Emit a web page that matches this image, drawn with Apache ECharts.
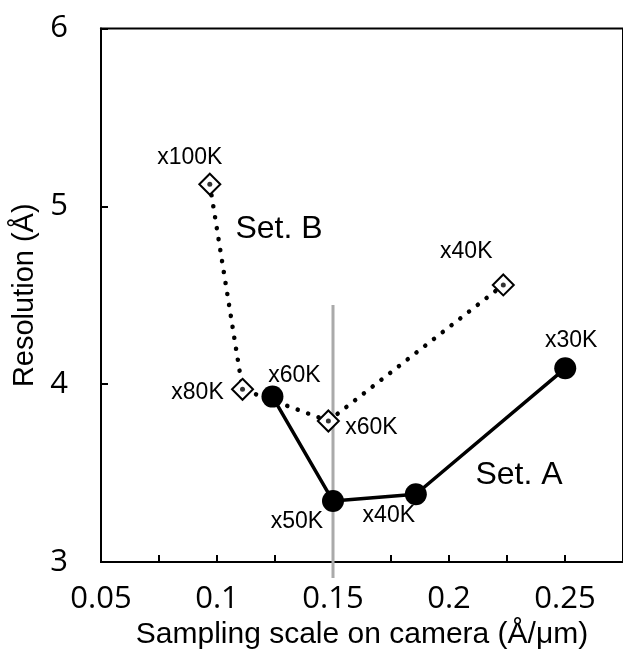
<!DOCTYPE html>
<html>
<head>
<meta charset="utf-8">
<script src="https://cdn.jsdelivr.net/npm/echarts@6/dist/echarts.min.js"></script>
<style>
html,body{margin:0;padding:0;background:#fff;}
#chart{width:623px;height:655px;}
</style>
</head>
<body>
<div id="chart"></div>
<script>
// ---- data ----
const setAX = [0.1239, 0.150, 0.1857, 0.2501];
const setAY = [3.93, 3.343, 3.381, 4.089];
const setALabels = ['x60K', 'x50K', 'x40K', 'x30K'];

const setBX = [0.0969, 0.111, 0.148, 0.2234];
const setBY = [5.124, 3.971, 3.793, 4.558];
const setBLabels = ['x100K', 'x80K', 'x60K', 'x40K'];

const refLineX = [0.15, 0.15];
const refLineY = [2.91, 4.445];

const xTickLabels = ['0.05', '0.1', '0.15', '0.2', '0.25'];
const yTickLabels = ['3', '4', '5', '6'];

// ---- layout / style ----
const setAOffsets = [[22, -21], [-36, 21], [-27, 21], [6, -28]];
const setBOffsets = [[-20, -27], [-45, 3], [43, 7], [-37, -33]];

function pts(xs, ys) { return xs.map((x, i) => [x, ys[i]]); }
function labelled(xs, ys, labels, offs) {
  return xs.map((x, i) => ({
    value: [x, ys[i]],
    label: { show: true, formatter: labels[i], position: 'inside', offset: offs[i] }
  }));
}

const labelFont = { fontFamily: 'Liberation Sans', fontSize: 23, color: '#000' };

const chart = echarts.init(document.getElementById('chart'), null, { renderer: 'canvas' });
chart.setOption({
  animation: false,
  backgroundColor: '#fff',
  grid: { left: 101, top: 28.5, right: -5, bottom: 93, show: true, borderColor: '#000', borderWidth: 2, containLabel: false },
  xAxis: {
    type: 'value', min: 0.05, max: 0.275, interval: 0.025,
    name: 'Sampling scale on camera (Å/μm)', nameLocation: 'middle', nameGap: 51,
    nameTextStyle: { fontFamily: 'Liberation Sans', fontSize: 30, color: '#000' },
    axisLine: { show: true, onZero: false, lineStyle: { color: '#000', width: 2 } },
    axisTick: { show: true, inside: true, length: 7, lineStyle: { color: '#000', width: 2 } },
    splitLine: { show: false },
    axisLabel: {
      showMaxLabel: false, margin: 22,
      fontFamily: '"Open Sans"', fontSize: 31, color: '#000',
      formatter: function (v) {
        const k = Math.round((v - 0.05) / 0.05 * 1000) / 1000;
        if (Math.abs(k - Math.round(k)) < 1e-6 && xTickLabels[Math.round(k)] !== undefined) return xTickLabels[Math.round(k)];
        return '';
      }
    }
  },
  yAxis: {
    type: 'value', min: 3, max: 6, interval: 1,
    name: 'Resolution (Å)', nameLocation: 'middle', nameGap: 62,
    nameTextStyle: { fontFamily: 'Liberation Sans', fontSize: 29, color: '#000' },
    axisLine: { show: true, lineStyle: { color: '#000', width: 2 } },
    axisTick: { show: true, inside: true, length: 7, lineStyle: { color: '#000', width: 2 } },
    splitLine: { show: false },
    axisLabel: {
      margin: 33, fontFamily: '"Open Sans"', fontSize: 31, color: '#000',
      formatter: function (v) { return yTickLabels[Math.round(v - 3)]; }
    }
  },
  series: [
    {
      type: 'line', data: pts(refLineX, refLineY), clip: false, symbol: 'none',
      lineStyle: { color: '#aaaaaa', width: 3 }, z: 1
    },
    {
      type: 'line', data: labelled(setBX, setBY, setBLabels, setBOffsets),
      symbol: 'diamond', symbolSize: 21,
      itemStyle: { color: '#fff', borderColor: '#000', borderWidth: 2 },
      lineStyle: { color: '#000', width: 4.5, type: [0.1, 11], cap: 'round' },
      label: labelFont, z: 2
    },
    {
      type: 'scatter', data: pts(setBX, setBY), symbol: 'circle', symbolSize: 5,
      itemStyle: { color: '#000' }, z: 3, silent: true
    },
    {
      type: 'line', data: labelled(setAX, setAY, setALabels, setAOffsets),
      symbol: 'circle', symbolSize: 22,
      itemStyle: { color: '#000', borderWidth: 0 },
      lineStyle: { color: '#000', width: 3.5 },
      label: labelFont, z: 4
    }
  ],
  graphic: [
    { type: 'text', x: 279, y: 229, style: { text: 'Set. B', align: 'center', verticalAlign: 'middle', font: '32px "Liberation Sans"', fill: '#000' } },
    { type: 'text', x: 519, y: 475, style: { text: 'Set. A', align: 'center', verticalAlign: 'middle', font: '32px "Liberation Sans"', fill: '#000' } }
  ]
});
</script>
</body>
</html>
